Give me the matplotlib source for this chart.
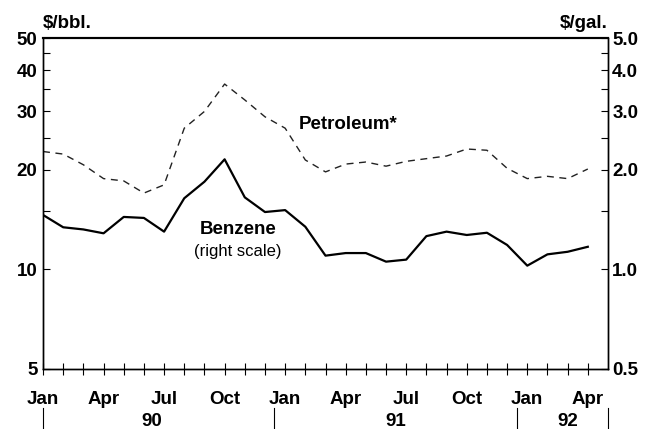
import numpy as np
import matplotlib
matplotlib.use("Agg")
import matplotlib.pyplot as plt
import matplotlib.transforms as mtransforms

plt.rcParams['font.family'] = ['Liberation Sans', 'DejaVu Sans']
plt.rcParams['font.weight'] = 'bold'

# monthly prices, Jan 1990 .. Apr 1992
petroleum = [22.7, 22.3, 20.7, 18.8, 18.5, 17.0, 18.0, 26.7, 30.0, 36.3, 32.5, 28.9,
             26.7, 21.4, 19.7, 20.8, 21.1, 20.5, 21.2, 21.6, 22.0, 23.1, 22.9, 20.2,
             18.8, 19.1, 18.8, 20.1]  # $/bbl
benzene = [1.46, 1.34, 1.32, 1.285, 1.44, 1.43, 1.30, 1.64, 1.84, 2.15, 1.65, 1.49,
           1.51, 1.345, 1.10, 1.12, 1.12, 1.055, 1.07, 1.26, 1.30, 1.27, 1.29, 1.185,
           1.026, 1.11, 1.13, 1.17]  # $/gal

month_labels = ["Jan", "Apr", "Jul", "Oct", "Jan", "Apr", "Jul", "Oct", "Jan", "Apr"]
years = ["90", "91", "92"]
year_centers = [5.4, 17.5, 26.0]
year_breaks = [0, 11.45, 23.5, 28]

left_ticks = [5, 10, 20, 30, 40, 50]
left_minor = [15, 25, 35, 45]
right_ticks = [0.5, 1.0, 2.0, 3.0, 4.0, 5.0]
right_minor = [1.5, 2.5, 3.5, 4.5]

months = np.arange(len(petroleum))
fs = 13.5

fig = plt.figure(figsize=(6.47, 4.29), dpi=100)
ax = fig.add_axes([0.0665, 0.1399, 0.8732, 0.7715])
ax2 = ax.twinx()

ax.plot(months, petroleum, color="#222222", lw=1.0, linestyle=(0, (5, 4)))
ax2.plot(months, benzene, color="black", lw=1.6)

ax.set_xlim(0, 28)
ax.set_yscale("log")
ax.set_ylim(5, 50)
ax2.set_yscale("log")
ax2.set_ylim(0.5, 5)

ax.set_yticks(left_ticks)
ax.set_yticklabels([str(v) for v in left_ticks])
ax.set_yticks(left_minor, minor=True)
ax.yaxis.set_minor_formatter(matplotlib.ticker.NullFormatter())
ax2.set_yticks(right_ticks)
ax2.set_yticklabels(["%.1f" % v for v in right_ticks])
ax2.set_yticks(right_minor, minor=True)
ax2.yaxis.set_minor_formatter(matplotlib.ticker.NullFormatter())

ax.tick_params(axis="y", which="both", direction="in", length=5, width=0.8,
               labelsize=fs, pad=4)
ax2.tick_params(axis="y", which="both", direction="in", length=5, width=0.8,
                labelsize=fs, pad=3)

ax.set_xticks(months)
ax.set_xticklabels([month_labels[i // 3] if i % 3 == 0 else "" for i in months])
ax.tick_params(axis="x", direction="inout", length=9, width=0.8, labelsize=fs, pad=11)

for sp in ["left", "right", "bottom"]:
    ax.spines[sp].set_linewidth(1.0)
    ax2.spines[sp].set_linewidth(1.0)
ax.spines["top"].set_linewidth(1.5)
ax2.spines["top"].set_linewidth(1.5)

# year separators and labels below month labels
trans = mtransforms.blended_transform_factory(ax.transData, ax.transAxes)
for xb in year_breaks:
    ax.plot([xb, xb], [-0.118, -0.19], color="black", lw=0.8,
            transform=trans, clip_on=False)
for yr, xc in zip(years, year_centers):
    ax.text(xc, -0.160, yr, transform=trans, ha="center", va="center", fontsize=fs)

ax.text(0, 1.045, r"\$/bbl.", transform=ax.transAxes, ha="left", va="center", fontsize=fs)
ax.text(1, 1.045, r"\$/gal.", transform=ax.transAxes, ha="right", va="center", fontsize=fs)

ax.text(12.65, 27.3, "Petroleum*", ha="left", va="center", fontsize=fs)
ax.text(9.65, 13.15, "Benzene", ha="center", va="center", fontsize=fs)
ax.text(9.65, 11.29, "(right scale)", ha="center", va="center", fontsize=12,
        fontweight="normal")

fig.savefig("out.png", dpi=100)
